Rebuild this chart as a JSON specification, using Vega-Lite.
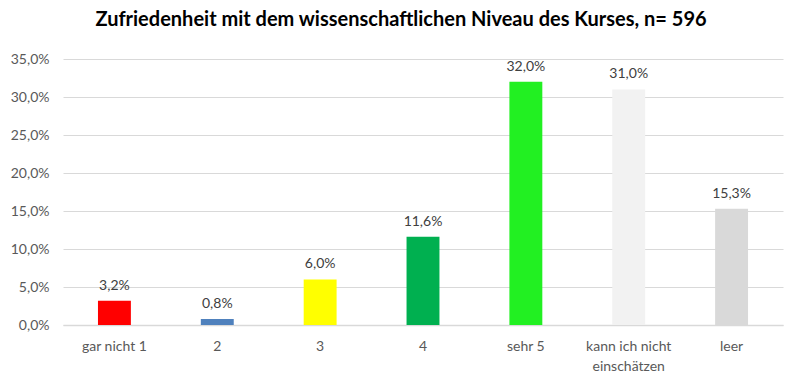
{
  "$schema": "https://vega.github.io/schema/vega-lite/v6.json",
  "width": 720,
  "height": 266,
  "autosize": {"type": "none"},
  "padding": {"left": 63, "top": 59, "right": 17, "bottom": 59},
  "background": "white",
  "config": {
    "locale": {"number": {"decimal": ",", "thousands": ".", "grouping": [3], "currency": ["", " €"]}},
    "view": {"stroke": null},
    "font": "Lato"
  },
  "title": {
    "text": "Zufriedenheit mit dem wissenschaftlichen Niveau des Kurses, n= 596",
    "fontSize": 20,
    "fontWeight": "bold",
    "color": "#000000",
    "font": "Lato",
    "anchor": "middle",
    "offset": 22,
    "dx": -22
  },
  "data": {
    "values": [
      {"cat": "gar nicht 1", "v": 0.032, "c": "#FF0000"},
      {"cat": "2", "v": 0.008, "c": "#4F81BD"},
      {"cat": "3", "v": 0.060, "c": "#FFFF00"},
      {"cat": "4", "v": 0.116, "c": "#00B050"},
      {"cat": "sehr 5", "v": 0.320, "c": "#22F022"},
      {"cat": "kann ich nicht einschätzen", "v": 0.310, "c": "#F2F2F2"},
      {"cat": "leer", "v": 0.153, "c": "#D9D9D9"}
    ]
  },
  "encoding": {
    "x": {
      "field": "cat",
      "type": "nominal",
      "sort": null,
      "scale": {"paddingInner": 0.68, "paddingOuter": 0.34},
      "axis": {
        "title": null,
        "labelAngle": 0,
        "labelFontSize": 14,
        "labelColor": "#595959",
        "labelPadding": 14,
        "ticks": false,
        "domainColor": "#D9D9D9",
        "domainWidth": 1.5,
        "labelExpr": "datum.value == 'kann ich nicht einschätzen' ? ['kann ich nicht', 'einschätzen'] : datum.value",
        "labelLineHeight": 20
      }
    },
    "y": {
      "field": "v",
      "type": "quantitative",
      "scale": {"domain": [0, 0.35], "nice": false},
      "axis": {
        "title": null,
        "format": ".1%",
        "values": [0, 0.05, 0.1, 0.15, 0.2, 0.25, 0.3, 0.35],
        "labelOverlap": false,
        "labelBound": false,
        "labelFontSize": 14,
        "labelColor": "#595959",
        "labelPadding": 14,
        "ticks": false,
        "domain": false,
        "gridColor": "#D9D9D9",
        "gridWidth": 1.2
      }
    }
  },
  "layer": [
    {
      "mark": {"type": "bar"},
      "encoding": {"color": {"field": "c", "type": "nominal", "scale": null}}
    },
    {
      "mark": {"type": "text", "baseline": "bottom", "dy": -8, "fontSize": 14, "color": "#404040"},
      "encoding": {"text": {"field": "v", "type": "quantitative", "format": ".1%"}}
    }
  ]
}
